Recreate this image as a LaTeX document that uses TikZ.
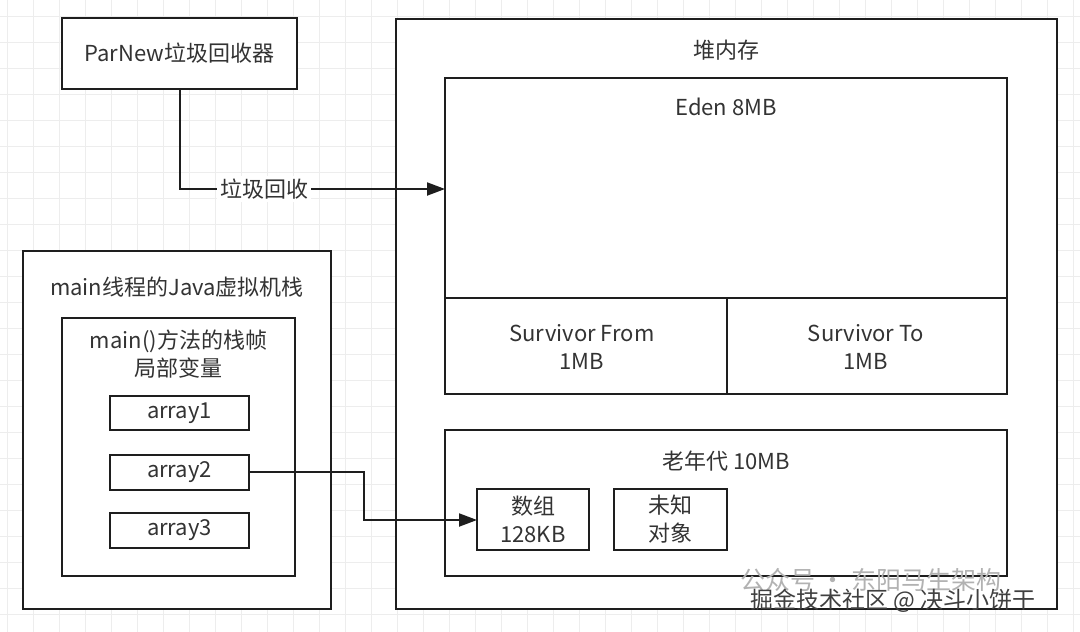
\documentclass[tikz,border=0pt]{standalone}
\usepackage{fontspec}
\setmainfont{Noto Sans CJK SC}
\usetikzlibrary{arrows.meta}
\definecolor{ink}{HTML}{1E1E1E}
\definecolor{txt}{HTML}{333333}
\definecolor{gridc}{HTML}{EDEDED}
\tikzset{
  box/.style={draw=ink, line width=2.8pt, fill=white},
  lbl/.style={text=txt, font=\fontsize{22}{28}\selectfont, align=center, inner sep=0pt},
  conn/.style={draw=ink, line width=2pt, -{Triangle[length=18pt,width=13pt]}},
}
\begin{document}
\begin{tikzpicture}[x=1pt,y=-1pt]
\useasboundingbox (0,0) rectangle (1080,632);
\fill[white] (0,0) rectangle (1080,632);
% grid
\foreach \i in {0,...,41} {\draw[gridc, line width=1pt] (7+26*\i,0) -- (7+26*\i,632);}
\foreach \j in {0,...,24} {\draw[gridc, line width=1pt] (0,16+26*\j) -- (1080,16+26*\j);}

% boxes
\draw[box] (62,18) rectangle (297,89);
\coordinate (parnew) at (179.5,89);
\node[lbl] (parnewT) at (179.5,53.5) {ParNew垃圾回收器};

\draw[box] (396,19) rectangle (1057,609);
\node[lbl] (heapT) at (726,50) {堆内存};

\draw[box] (445,78) rectangle (1007,298);
\node[lbl] (edenT) at (726,107) {Eden 8MB};
\coordinate (edenL) at (445,189);

\draw[box] (445,298) rectangle (727,394);
\node[lbl] (sfrom) at (582,347) {Survivor From\\1MB};
\draw[box] (727,298) rectangle (1007,394);
\node[lbl] (sto) at (866,347) {Survivor To\\1MB};

\draw[box] (445,430) rectangle (1007,576);
\node[lbl] (oldT) at (726,461) {老年代 10MB};

\draw[box] (477,489) rectangle (589,550);
\node[lbl] (arr) at (533,519.5) {数组\\128KB};
\coordinate (arrL) at (477,520);
\draw[box] (614,489) rectangle (727,550);
\node[lbl] (unk) at (670.5,519.5) {未知\\对象};

\draw[box] (23,251) rectangle (331,609);
\node[lbl] (stackT) at (177,287) {main线程的Java虚拟机栈};

\draw[box] (62,318) rectangle (295,576);
\node[lbl] (frameT) at (178.5,354) {main()方法的栈帧\\局部变量};

\draw[box] (110,396) rectangle (249,430);
\node[lbl] (a1) at (179.5,413) {array1};
\draw[box] (110,455) rectangle (249,490);
\node[lbl] (a2) at (179.5,472) {array2};
\coordinate (a2R) at (249,472);
\draw[box] (110,513) rectangle (249,548);
\node[lbl] (a3) at (179.5,530) {array3};

% connectors
\draw[conn] (parnew) |- (edenL);
\node[lbl, fill=white, inner sep=3pt] (gc) at (264,189) {垃圾回收};
\draw[conn] (a2R) -- (364,472) |- (arrL);

% watermarks
\node[text=black!30, font=\fontsize{25}{28}\selectfont, anchor=west, inner sep=0pt] (wm1) at (740,580) {公众号 · 东阳马生架构};
\node[text=black!75, font=\fontsize{23}{26}\selectfont, anchor=west, inner sep=0pt] (wm2) at (750,601) {掘金技术社区 @ 决斗小饼干};
\end{tikzpicture}
\end{document}
